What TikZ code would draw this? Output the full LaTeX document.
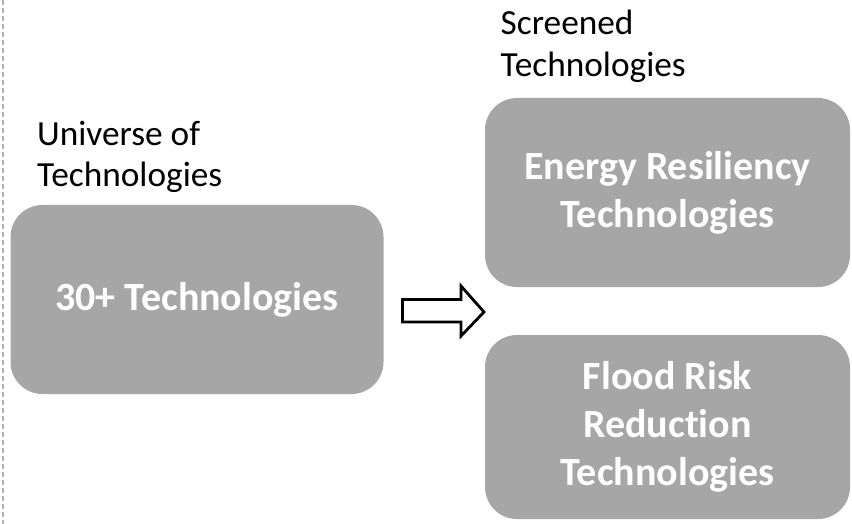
\documentclass[tikz,border=0pt]{standalone}
\usepackage{fontspec}
\setmainfont{Carlito}[Ligatures={NoCommon}]
\begin{document}
\begin{tikzpicture}[x=1pt,y=-1pt,
  techbox/.style={draw=none,fill=boxgray,rounded corners=32pt,
    text=white,font=\fontsize{40}{48}\selectfont\bfseries,align=center,
    inner sep=0pt},
  caption/.style={anchor=base west,align=left,inner sep=0pt,
    font=\fontsize{35.3}{42}\selectfont},
  blockarrow/.style={draw=black,line width=2.8pt,line join=miter,fill=white}]
\definecolor{boxgray}{HTML}{A6A6A6}
\definecolor{rulegray}{HTML}{B4B4B4}
\useasboundingbox (0,0) rectangle (852,524);
% dashed margin rule
\coordinate (ruletop) at (3,0);
\coordinate (rulebot) at (3,524);
\draw[rulegray,line width=1.2pt,dash pattern=on 5pt off 3pt] (ruletop) -- (rulebot);
% boxes
\node[techbox,minimum width=373pt,minimum height=189pt] (all) at (197,299.5) {30+ Technologies};
\node[techbox,minimum width=365pt,minimum height=189pt] (energy) at (667.5,192.5) {Energy Resiliency\\Technologies};
\node[techbox,minimum width=365pt,minimum height=184pt] (flood) at (667.5,427) {Flood Risk\\Reduction\\Technologies};
% captions (anchored on the baseline of their last line)
\node[caption] (univ) at (37,187) {Universe of\\Technologies};
\node[caption] (screen) at (500.5,77) {Screened\\Technologies};
% block arrow between the columns
\coordinate (arr) at (443,311);
\draw[blockarrow] ([shift={(-40.5,-11.5)}]arr) -- ([shift={(18,-11.5)}]arr)
  -- ([shift={(18,-25)}]arr) -- ([shift={(41,1)}]arr)
  -- ([shift={(18,25)}]arr) -- ([shift={(18,11)}]arr)
  -- ([shift={(-40.5,11)}]arr) -- cycle;
\end{tikzpicture}
\end{document}
